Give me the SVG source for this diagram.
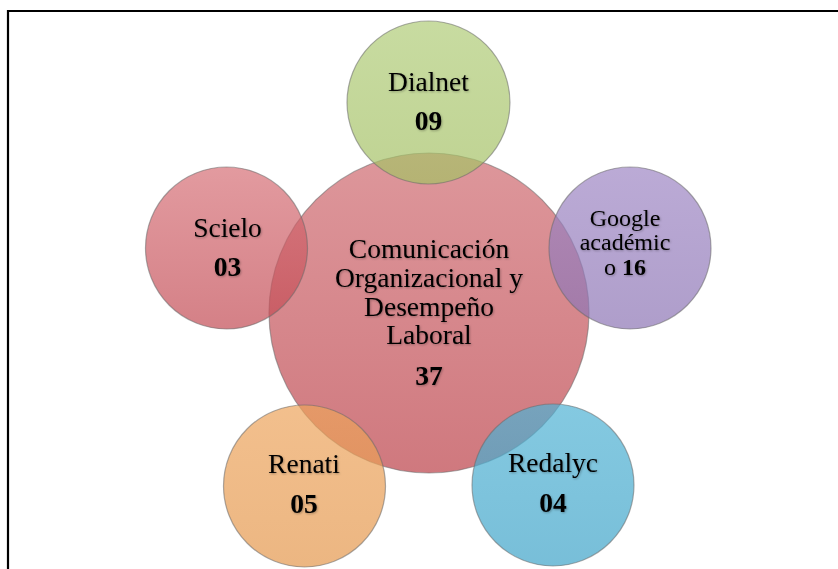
<svg xmlns="http://www.w3.org/2000/svg" width="838" height="569" viewBox="0 0 838 569">
<style>
.c{stroke:#6a6a6a;stroke-opacity:0.55;stroke-width:1.2}
.t{font-family:"Liberation Serif","Times New Roman",serif;font-size:27.5px;fill:#000;text-anchor:middle}
.g{font-size:24px}
.b{font-weight:bold}
.frame{stroke:#000;stroke-width:2.2;fill:none}
</style>
<defs>
<linearGradient id="gC" x1="0" y1="0" x2="0" y2="1">
<stop offset="0" stop-color="#cf6a70" stop-opacity="0.7"/><stop offset="1" stop-color="#bb3f47" stop-opacity="0.7"/>
</linearGradient>
<linearGradient id="gS" x1="0" y1="0" x2="0" y2="1">
<stop offset="0" stop-color="#d66f76" stop-opacity="0.7"/><stop offset="1" stop-color="#c24a53" stop-opacity="0.7"/>
</linearGradient>
<linearGradient id="gD" x1="0" y1="0" x2="0" y2="1">
<stop offset="0" stop-color="#b0cc78" stop-opacity="0.7"/><stop offset="1" stop-color="#a4c064" stop-opacity="0.7"/>
</linearGradient>
<linearGradient id="gG" x1="0" y1="0" x2="0" y2="1">
<stop offset="0" stop-color="#9e86c4" stop-opacity="0.7"/><stop offset="1" stop-color="#8c74b4" stop-opacity="0.7"/>
</linearGradient>
<linearGradient id="gR" x1="0" y1="0" x2="0" y2="1">
<stop offset="0" stop-color="#eda45c" stop-opacity="0.7"/><stop offset="1" stop-color="#e4974c" stop-opacity="0.7"/>
</linearGradient>
<linearGradient id="gY" x1="0" y1="0" x2="0" y2="1">
<stop offset="0" stop-color="#4fb2d4" stop-opacity="0.7"/><stop offset="1" stop-color="#3ea3c8" stop-opacity="0.7"/>
</linearGradient>
<filter id="sh" x="-10%" y="-20%" width="120%" height="140%">
<feDropShadow dx="0.8" dy="1" stdDeviation="0.8" flood-color="#000" flood-opacity="0.3"/>
</filter>
</defs>
<rect width="838" height="569" fill="#fff"/>
<path class="frame" d="M8 569 V11 H838"/>
<g id="centro">
<circle class="c" cx="429" cy="313" r="160" fill="url(#gC)"/>
</g>
<g id="dialnet">
<circle class="c" cx="428.5" cy="102.5" r="81.5" fill="url(#gD)"/>
</g>
<g id="scielo">
<circle class="c" cx="226.5" cy="248" r="81" fill="url(#gS)"/>
</g>
<g id="google">
<circle class="c" cx="630" cy="248" r="81" fill="url(#gG)"/>
</g>
<g id="renati">
<circle class="c" cx="304.5" cy="486" r="81" fill="url(#gR)"/>
</g>
<g id="redalyc">
<circle class="c" cx="553" cy="485" r="81" fill="url(#gY)"/>
</g>
<g id="labels" filter="url(#sh)">
<text class="t" x="429" y="258">Comunicación</text>
<text class="t" x="429" y="287">Organizacional y</text>
<text class="t" x="429" y="316">Desempeño</text>
<text class="t" x="429" y="344">Laboral</text>
<text class="t b" x="429" y="385">37</text>
<text class="t" x="428.5" y="91">Dialnet</text>
<text class="t b" x="428.5" y="130">09</text>
<text class="t" x="227.5" y="237">Scielo</text>
<text class="t b" x="227.5" y="276">03</text>
<text class="t g" x="625" y="225.5">Google</text>
<text class="t g" x="625" y="250">académic</text>
<text class="t g" x="625" y="275">o <tspan class="b">16</tspan></text>
<text class="t" x="304" y="473">Renati</text>
<text class="t b" x="304" y="513">05</text>
<text class="t" x="553" y="472">Redalyc</text>
<text class="t b" x="553" y="512">04</text>
</g>
</svg>
